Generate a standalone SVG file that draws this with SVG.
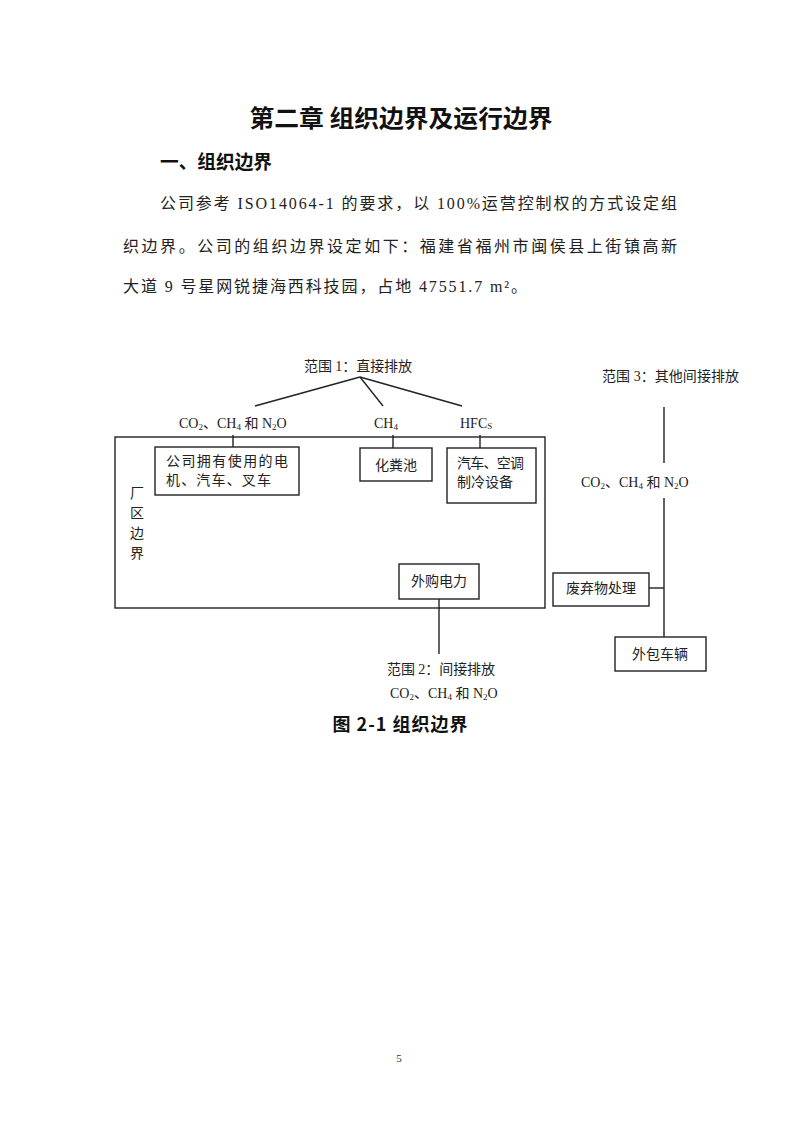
<svg xmlns="http://www.w3.org/2000/svg" width="800" height="1131" viewBox="0 0 800 1131">
<style>
.bg{fill:#ffffff}
.h{font-family:"Noto Sans CJK SC","Liberation Sans",sans-serif;font-weight:700;fill:#111}
.cap{font-family:"Noto Sans CJK SC","Liberation Sans",sans-serif;font-weight:700;font-size:18px;fill:#111}
.p{font-family:"Liberation Serif","Noto Sans CJK SC",serif;font-size:16px;fill:#222}
.t{font-family:"Liberation Serif","Noto Sans CJK SC",serif;font-size:14px;fill:#222}
.sub{font-size:9px}
.box{fill:none;stroke:#222;stroke-width:1.4}
.ln{stroke:#222;stroke-width:1.4;fill:none}
</style>
<rect class="bg" x="0" y="0" width="800" height="1131"/>

<g id="heading">
<text class="h" x="401" y="127" font-size="24" text-anchor="middle" textLength="303" lengthAdjust="spacingAndGlyphs">第二章 组织边界及运行边界</text>
<text class="h" x="160" y="169" font-size="19" textLength="112" lengthAdjust="spacingAndGlyphs">一、组织边界</text>
</g>

<g id="paragraph">
<text class="p" x="160" y="209" textLength="517" lengthAdjust="spacing">公司参考 ISO14064-1 的要求，以 100%运营控制权的方式设定组</text>
<text class="p" x="123" y="252" textLength="554" lengthAdjust="spacing">织边界。公司的组织边界设定如下：福建省福州市闽侯县上街镇高新</text>
<text class="p" x="123" y="292" textLength="404" lengthAdjust="spacing">大道 9 号星网锐捷海西科技园，占地 47551.7 m²。</text>
</g>

<g id="connectors">
<line class="ln" x1="360" y1="377" x2="255" y2="406"/>
<line class="ln" x1="360" y1="377" x2="383" y2="406"/>
<line class="ln" x1="360" y1="377" x2="462" y2="406"/>
<line class="ln" x1="233" y1="435" x2="233" y2="447"/>
<line class="ln" x1="393" y1="435" x2="393" y2="448"/>
<line class="ln" x1="480" y1="435" x2="480" y2="448"/>
<line class="ln" x1="439" y1="599" x2="439" y2="654"/>
<line class="ln" x1="664" y1="407" x2="664" y2="463"/>
<line class="ln" x1="664" y1="498" x2="664" y2="637"/>
<line class="ln" x1="649" y1="588" x2="664" y2="588"/>
</g>

<g id="plant-boundary">
<rect class="box" x="115" y="437" width="430" height="171"/>
<text class="t" x="137" y="498" text-anchor="middle">厂</text>
<text class="t" x="137" y="518" text-anchor="middle">区</text>
<text class="t" x="137" y="538" text-anchor="middle">边</text>
<text class="t" x="137" y="558" text-anchor="middle">界</text>
</g>

<g id="scope1">
<text class="t" x="358" y="371" text-anchor="middle" textLength="108" lengthAdjust="spacing">范围 1：直接排放</text>
</g>

<g id="scope1-gases">
<text class="t" x="179" y="428">CO<tspan class="sub" dy="2">2</tspan><tspan dy="-2">、CH</tspan><tspan class="sub" dy="2">4</tspan><tspan dy="-2"> 和 N</tspan><tspan class="sub" dy="2">2</tspan><tspan dy="-2">O</tspan></text>
</g>

<g id="scope1-ch4">
<text class="t" x="374" y="428">CH<tspan class="sub" dy="2">4</tspan></text>
</g>

<g id="scope1-hfcs">
<text class="t" x="460" y="428">HFC<tspan class="sub" dy="1">S</tspan></text>
</g>

<g id="company-equipment">
<rect class="box" x="155" y="447" width="144" height="48"/>
<text class="t" x="166" y="466" textLength="122" lengthAdjust="spacing">公司拥有使用的电</text>
<text class="t" x="166" y="485" textLength="105" lengthAdjust="spacing">机、汽车、叉车</text>
</g>

<g id="septic-tank">
<rect class="box" x="360" y="448" width="72" height="33"/>
<text class="t" x="396" y="470" text-anchor="middle">化粪池</text>
</g>

<g id="ac-refrigeration">
<rect class="box" x="447" y="448" width="89" height="55"/>
<text class="t" x="457" y="468" textLength="67" lengthAdjust="spacing">汽车、空调</text>
<text class="t" x="457" y="487" textLength="56" lengthAdjust="spacing">制冷设备</text>
</g>

<g id="purchased-power">
<rect class="box" x="399" y="564" width="80" height="35"/>
<text class="t" x="439" y="586" text-anchor="middle">外购电力</text>
</g>

<g id="scope2">
<text class="t" x="441" y="674" text-anchor="middle" textLength="108" lengthAdjust="spacing">范围 2：间接排放</text>
<text class="t" x="390" y="698">CO<tspan class="sub" dy="2">2</tspan><tspan dy="-2">、CH</tspan><tspan class="sub" dy="2">4</tspan><tspan dy="-2"> 和 N</tspan><tspan class="sub" dy="2">2</tspan><tspan dy="-2">O</tspan></text>
</g>

<g id="scope3">
<text class="t" x="602" y="381" textLength="137" lengthAdjust="spacing">范围 3：其他间接排放</text>
<text class="t" x="581" y="487">CO<tspan class="sub" dy="2">2</tspan><tspan dy="-2">、CH</tspan><tspan class="sub" dy="2">4</tspan><tspan dy="-2"> 和 N</tspan><tspan class="sub" dy="2">2</tspan><tspan dy="-2">O</tspan></text>
</g>

<g id="waste-treatment">
<rect class="box" x="553" y="573" width="96" height="33"/>
<text class="t" x="601" y="593" text-anchor="middle">废弃物处理</text>
</g>

<g id="outsourced-vehicles">
<rect class="box" x="615" y="637" width="91" height="34"/>
<text class="t" x="660" y="659" text-anchor="middle">外包车辆</text>
</g>

<g id="caption">
<text class="cap" x="400" y="731" text-anchor="middle" textLength="135" lengthAdjust="spacing">图 2-1 组织边界</text>
</g>

<g id="page-number">
<text x="399" y="1062" font-family="Liberation Serif,serif" font-size="11" fill="#333" text-anchor="middle">5</text>
</g>
</svg>
